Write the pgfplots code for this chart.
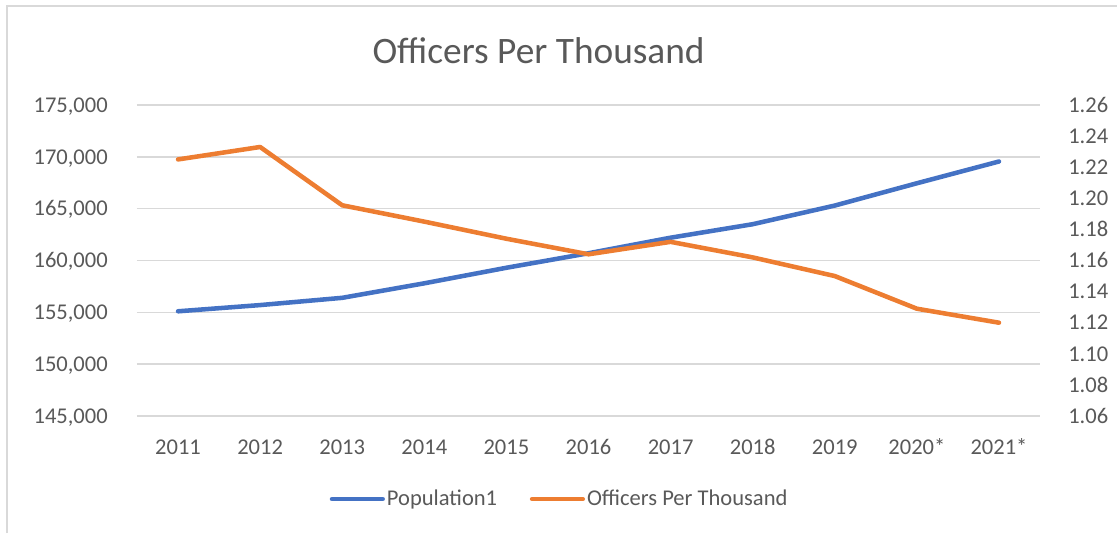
\documentclass[border=0pt]{standalone}
\usepackage{pgfplots}
\pgfplotsset{compat=1.18}
\usepackage{fontspec}
\setmainfont{Carlito}
\definecolor{cblue}{HTML}{4472C4}
\definecolor{corange}{HTML}{ED7D31}
\definecolor{cgrid}{HTML}{D9D9D9}
\definecolor{ctext}{HTML}{595959}
\begin{document}
\begin{tikzpicture}
\path[use as bounding box] (0,0) rectangle (837.75pt,399.75pt);
\draw[cgrid, line width=1.1pt] (5.25pt,0pt) -- (5.25pt,395.25pt) -- (837.75pt,395.25pt);
\node[anchor=base, text=ctext, font=\fontsize{28}{33}\selectfont, inner sep=0pt] at (403.9pt,351.75pt) {Officers Per Thousand};
\begin{axis}[
  at={(102.75pt,87.75pt)}, anchor=south west,
  scale only axis, width=677.25pt, height=233.25pt,
  xmin=-0.5, xmax=10.5,
  ymin=145000, ymax=175000,
  xtick={0,...,10},
  xticklabels={2011,2012,2013,2014,2015,2016,2017,2018,2019,2020*,2021*},
  ytick={145000,150000,...,175000},
  scaled y ticks=false,
  ymajorgrids,
  grid style={cgrid, line width=1.1pt},
  axis line style={draw=none},
  major tick length=0pt,
  tick style={draw=none},
  /pgf/number format/assume math mode=true,
  /pgf/number format/.cd, fixed, 1000 sep={,},
  /pgfplots/.cd,
  ticklabel style={text=ctext, font=\fontsize{16.9}{19}\selectfont, inner sep=0pt},
  yticklabel style={anchor=base east, xshift=-21.75pt, yshift=-5.4pt},
  xticklabel style={anchor=base, yshift=-28.5pt},
]
\addplot[cblue, line width=3.4pt, line cap=round, line join=round] coordinates {
(0,155100) (1,155700) (2,156400) (3,157800) (4,159300) (5,160700)
(6,162200) (7,163500) (8,165300) (9,167450) (10,169550)
};
\end{axis}
\begin{axis}[
  at={(102.75pt,87.75pt)}, anchor=south west,
  scale only axis, width=677.25pt, height=233.25pt,
  xmin=-0.5, xmax=10.5,
  ymin=1.06, ymax=1.26,
  axis x line=none,
  axis y line*=right,
  axis line style={draw=none},
  ytick={1.06,1.08,...,1.261},
  major tick length=0pt,
  tick style={draw=none},
  /pgf/number format/assume math mode=true,
  /pgf/number format/.cd, fixed, fixed zerofill, precision=2,
  /pgfplots/.cd,
  yticklabel style={text=ctext, font=\fontsize{16.9}{19}\selectfont, inner sep=0pt, anchor=base west, xshift=21pt, yshift=-5.4pt},
  legend style={at={(0.468,-0.267)}, anchor=center, draw=none, fill=none,
    legend columns=2, text=ctext, font=\fontsize{16.9}{19}\selectfont,
    /tikz/every even column/.append style={column sep=23pt},
    nodes={inner sep=1.5pt}},
  legend image code/.code={\draw[#1, line cap=round] (0pt,0pt) -- (38pt,0pt);},
]
\addlegendimage{cblue, line width=3.4pt}
\addlegendentry{Population1}
\addplot[corange, line width=3.4pt, line cap=round, line join=round] coordinates {
(0,1.225) (1,1.233) (2,1.1955) (3,1.185) (4,1.174) (5,1.164)
(6,1.172) (7,1.162) (8,1.150) (9,1.129) (10,1.120)
};
\addlegendentry{Officers Per Thousand}
\end{axis}
\end{tikzpicture}
\end{document}
